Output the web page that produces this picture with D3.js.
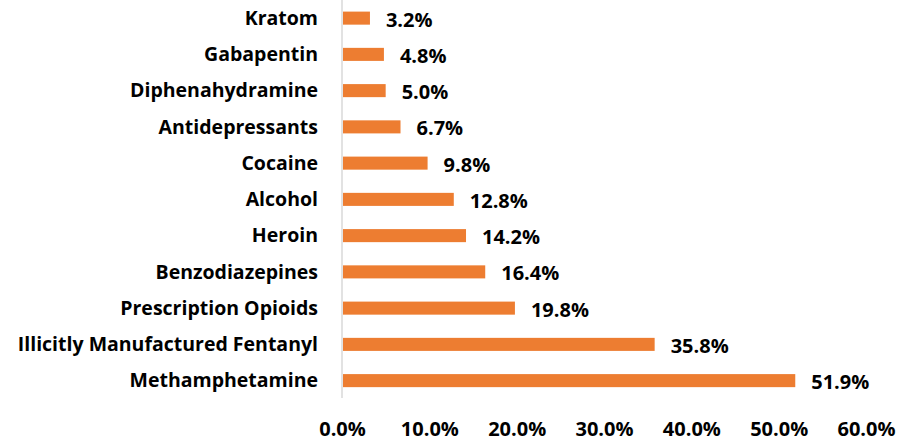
<!DOCTYPE html>
<html>
<head>
<meta charset="utf-8">
<style>
body{ margin:0; background:#fff; }
text{ font-family: "Open Sans", sans-serif; font-weight:bold; fill:#000; }
</style>
</head>
<body>
<svg class="chart"></svg>
<script src="https://cdn.jsdelivr.net/npm/d3@7"></script>
<script>

// data
var drugs = ["Kratom", "Gabapentin", "Diphenahydramine", "Antidepressants", "Cocaine",
	"Alcohol", "Heroin", "Benzodiazepines", "Prescription Opioids",
	"Illicitly Manufactured Fentanyl", "Methamphetamine"];
var pct = [3.2, 4.8, 5.0, 6.7, 9.8, 12.8, 14.2, 16.4, 19.8, 35.8, 51.9];
var ticks = [0, 10, 20, 30, 40, 50, 60];

var width = 897;
var height = 443;
var x0 = 342;

var svg = d3.select(".chart")
	.attr("width", width)
	.attr("height", height);

var x = d3.scaleLinear()
	.domain([0, 60])
	.range([x0, 866]);

var y = d3.scaleBand()
	.domain(drugs)
	.range([0, 398.75])
	.paddingInner(0.64)
	.paddingOuter(0.32);

var rows = drugs.map(function(d, i){ return {name: d, value: pct[i]}; });

// bars
svg.selectAll(".bar")
	.data(rows)
	.enter()
	.append("rect")
	.attr("class", "bar")
	.attr("x", x(0) + 1)
	.attr("y", function(d){ return y(d.name); })
	.attr("width", function(d){ return x(d.value) - x(0) - 1; })
	.attr("height", y.bandwidth())
	.attr("fill", "#ED7D31");

// vertical axis line
svg.append("line")
	.attr("x1", x0).attr("x2", x0)
	.attr("y1", 0).attr("y2", 398)
	.attr("stroke", "#d9d9d9")
	.attr("stroke-width", 1.5);

// category labels
svg.selectAll(".cat")
	.data(rows)
	.enter()
	.append("text")
	.attr("class", "cat")
	.attr("x", 318)
	.attr("y", function(d){ return y(d.name) + y.bandwidth() / 2; })
	.attr("dy", "0.35em")
	.attr("text-anchor", "end")
	.style("font-size", "19.5px")
	.text(function(d){ return d.name; });

// value labels
svg.selectAll(".val")
	.data(rows)
	.enter()
	.append("text")
	.attr("class", "val")
	.attr("x", function(d){ return x(d.value) + 16; })
	.attr("y", function(d){ return y(d.name) + y.bandwidth() / 2 + 1.5; })
	.attr("dy", "0.35em")
	.style("font-size", "20px")
	.text(function(d){ return d.value.toFixed(1) + "%"; });

// x tick labels
var xAxis = d3.axisBottom(x)
	.tickValues(ticks)
	.tickSize(0)
	.tickPadding(0)
	.tickFormat(function(d){ return d.toFixed(1) + "%"; });

var gx = svg.append("g")
	.attr("transform", "translate(0,436)")
	.call(xAxis);
gx.select(".domain").remove();
gx.selectAll("text")
	.attr("dy", "0")
	.style("font-size", "20px")
	.style("font-family", "'Open Sans', sans-serif")
	.style("font-weight", "bold")
	.attr("fill", "#000");

</script>
</body>
</html>
